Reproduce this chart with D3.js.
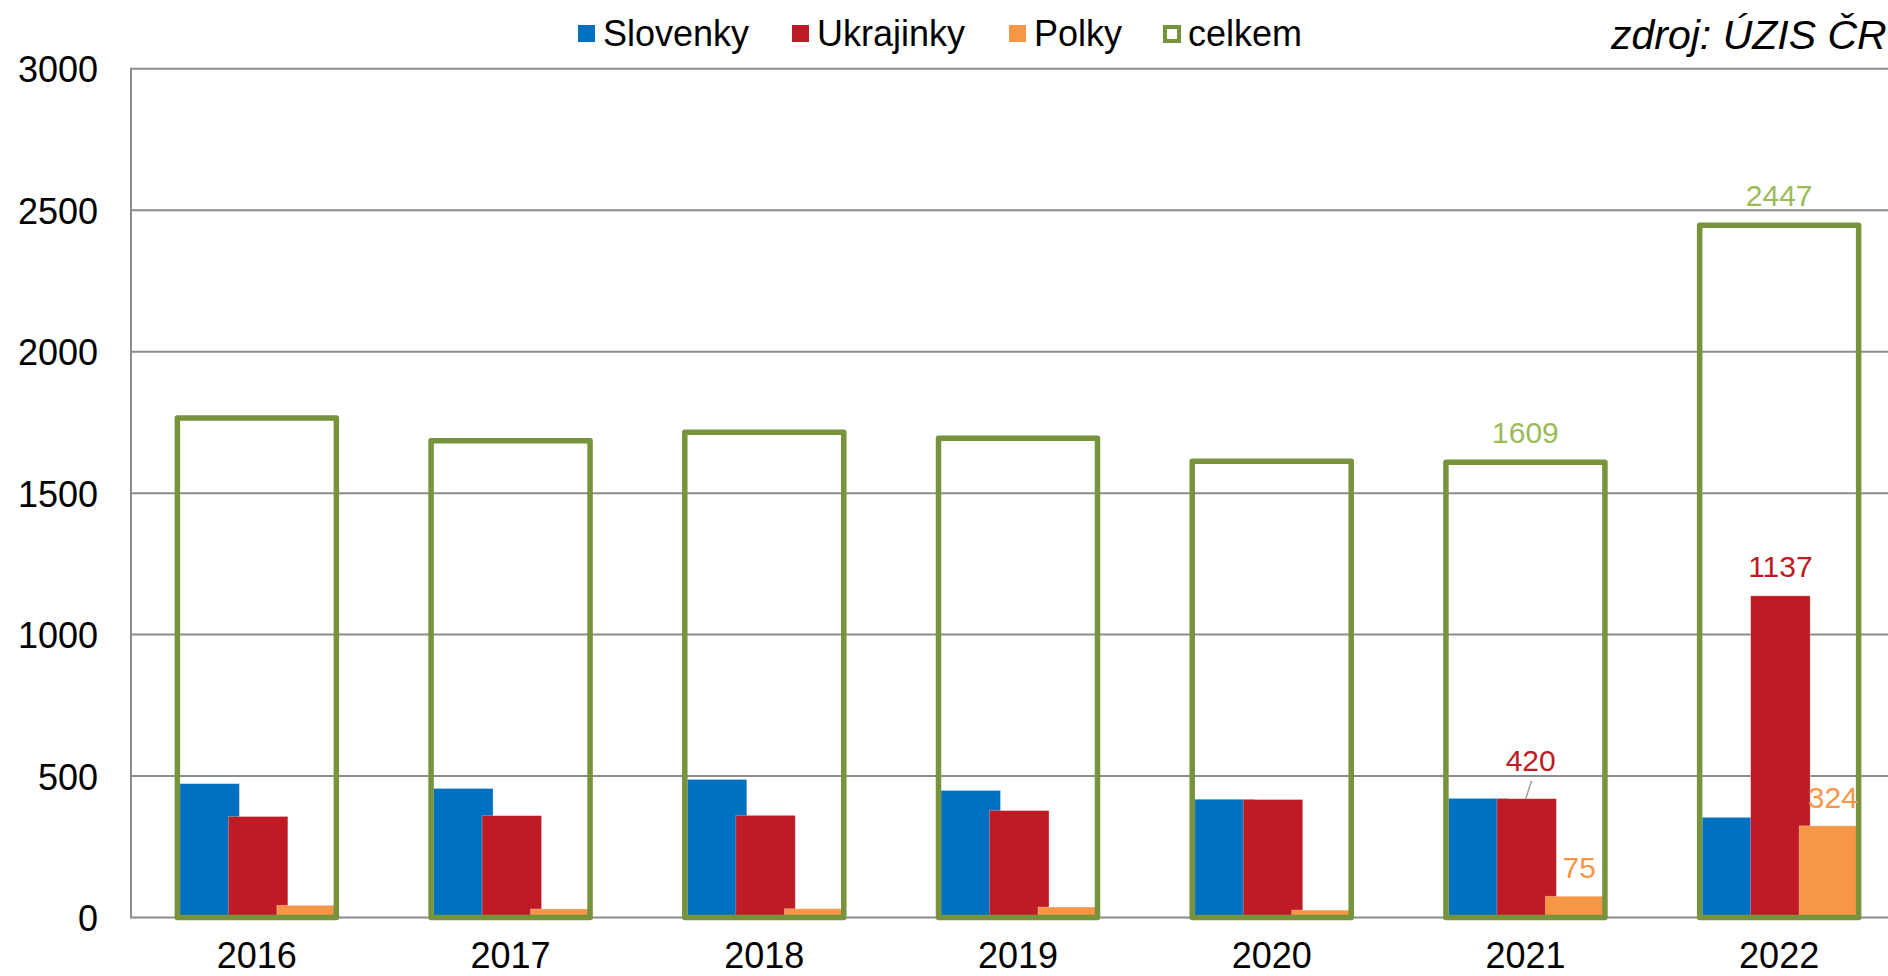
<!DOCTYPE html>
<html>
<head>
<meta charset="utf-8">
<script src="https://cdn.jsdelivr.net/npm/d3@7"></script>
<style>
  html, body { margin: 0; padding: 0; background: #fff; overflow: hidden; }
  svg { display: block; font-family: "Liberation Sans", Arial, sans-serif; }
</style>
</head>
<body>
<svg id="chart" width="1888" height="976"></svg>
<script>
// ---- data ----
const years = ["2016", "2017", "2018", "2019", "2020", "2021", "2022"];
const slovenky = [473, 456, 488, 449, 418, 421, 354];
const ukrajinky = [357, 360, 361, 378, 417, 420, 1137];
const polky = [43, 30, 31, 37, 26, 75, 324];
const celkem = [1766, 1685, 1715, 1694, 1613, 1609, 2447];
const seriesNames = ["Slovenky", "Ukrajinky", "Polky", "celkem"];
const yTicks = [0, 500, 1000, 1500, 2000, 2500, 3000];
const labeledYears = ["2021", "2022"];
const sourceText = "zdroj: ÚZIS ČR";

// ---- styles ----
const colors = { Slovenky: "#0070C0", Ukrajinky: "#BE1B24", Polky: "#F79646", celkem: "#77933C" };
const labelColors = { Ukrajinky: "#BE1B24", Polky: "#F79646", celkem: "#9BBB59" };

const svg = d3.select("#chart");
const x = d3.scaleBand().domain(years).range([130, 1906]).padding(0);
const y = d3.scaleLinear().domain([0, 3000]).range([917.5, 68.8]);
const sub = d3.scaleLinear().domain([0, 2]).range([-77, 20]);
const barW = 59.5;
const boxHalf = 79.5;
const cx = d => x(d) + x.bandwidth() / 2;

// gridlines
svg.append("g").selectAll("line").data(yTicks).join("line")
  .attr("x1", 130).attr("x2", 1906)
  .attr("y1", d => y(d)).attr("y2", d => y(d))
  .attr("stroke", "#8c8c8c").attr("stroke-width", 2);

// y axis via d3 axis (labels only)
const yAxis = svg.append("g").attr("transform", "translate(131,0)")
  .call(d3.axisLeft(y).tickValues(yTicks).tickSize(0).tickPadding(33).tickFormat(d3.format("d")));
yAxis.select(".domain").remove();
yAxis.selectAll("text").attr("font-size", 36).attr("fill", "#000")
  .attr("font-family", "Liberation Sans, Arial, sans-serif").attr("dy", "0.36em");

// left axis line
svg.append("line").attr("x1", 131).attr("x2", 131).attr("y1", y(3000)).attr("y2", y(0))
  .attr("stroke", "#8c8c8c").attr("stroke-width", 2);

// bars
const barSeries = [["Slovenky", slovenky], ["Ukrajinky", ukrajinky], ["Polky", polky]];
barSeries.forEach(([name, vals], si) => {
  svg.append("g").selectAll("rect").data(years).join("rect")
    .attr("x", (d) => cx(d) + sub(si))
    .attr("width", barW)
    .attr("y", (d, i) => y(vals[i]))
    .attr("height", (d, i) => y(0) - y(vals[i]))
    .attr("fill", colors[name])
    .attr("stroke", "rgba(255,255,255,0.35)").attr("stroke-width", 0.8);
});

// celkem boxes
svg.append("g").selectAll("rect").data(years).join("rect")
  .attr("x", d => cx(d) - boxHalf)
  .attr("width", boxHalf * 2)
  .attr("y", (d, i) => y(celkem[i]))
  .attr("height", (d, i) => y(0) - y(celkem[i]))
  .attr("fill", "none")
  .attr("stroke", colors.celkem).attr("stroke-width", 5.5).attr("stroke-linejoin", "round");

// x axis labels
const xAxis = svg.append("g").attr("transform", `translate(0,${y(0)})`)
  .call(d3.axisBottom(x).tickSize(0).tickPadding(25));
xAxis.select(".domain").remove();
xAxis.selectAll("text").attr("font-size", 36).attr("fill", "#000")
  .attr("font-family", "Liberation Sans, Arial, sans-serif").attr("dy", "0.71em");

// data labels
const lbl = svg.append("g").attr("font-size", 30).attr("text-anchor", "middle");
years.forEach((yr, i) => {
  if (!labeledYears.includes(yr)) return;
  // celkem
  lbl.append("text").attr("x", cx(yr)).attr("y", y(celkem[i]) - 19)
    .attr("fill", labelColors.celkem).text(celkem[i]);
  // ukrajinky
  const ux = cx(yr) + sub(1) + barW / 2;
  if (yr === "2021") {
    lbl.append("text").attr("x", ux + 4).attr("y", y(ukrajinky[i]) - 28)
      .attr("fill", labelColors.Ukrajinky).text(ukrajinky[i]);
    svg.append("line").attr("x1", ux + 5).attr("y1", y(ukrajinky[i]) - 18)
      .attr("x2", ux - 1).attr("y2", y(ukrajinky[i]))
      .attr("stroke", "#a0a0a0").attr("stroke-width", 1.5);
  } else {
    lbl.append("text").attr("x", ux).attr("y", y(ukrajinky[i]) - 19)
      .attr("fill", labelColors.Ukrajinky).text(ukrajinky[i]);
  }
  // polky
  const px = cx(yr) + sub(2) + barW / 2;
  lbl.append("text").attr("x", px + 4).attr("y", y(polky[i]) - 18)
    .attr("fill", labelColors.Polky).text(polky[i]);
});

// legend
const legendPos = [578, 792, 1009, 1163];
const leg = svg.append("g");
seriesNames.forEach((name, i) => {
  const g = leg.append("g").attr("transform", `translate(${legendPos[i]},0)`);
  if (name === "celkem") {
    g.append("rect").attr("x", 2).attr("y", 27).attr("width", 14).attr("height", 14)
      .attr("fill", "#fff").attr("stroke", colors.celkem).attr("stroke-width", 4);
  } else {
    g.append("rect").attr("x", 0).attr("y", 25).attr("width", 17).attr("height", 17)
      .attr("fill", colors[name]);
  }
  g.append("text").attr("x", 25).attr("y", 46).attr("font-size", 36).attr("fill", "#000").text(name);
});

// source
svg.append("text").attr("x", 1611).attr("y", 49).attr("font-size", 41)
  .attr("font-style", "italic").attr("fill", "#000").text(sourceText);
</script>
</body>
</html>
